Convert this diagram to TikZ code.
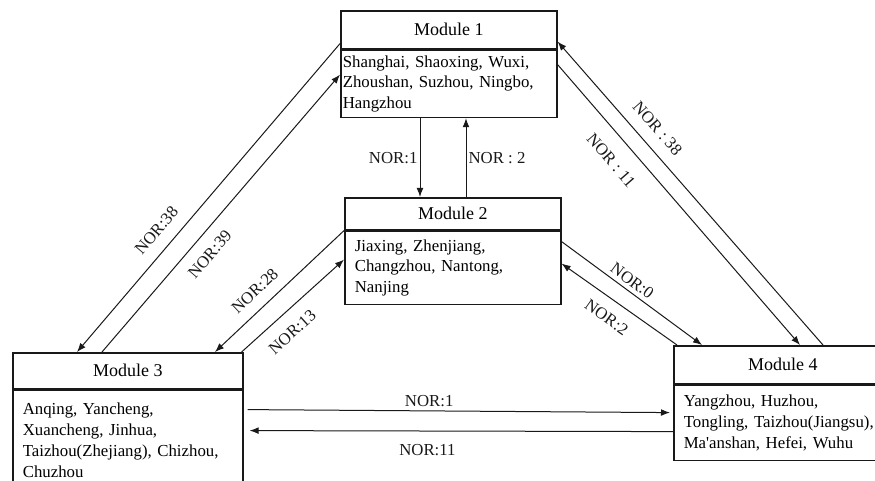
\documentclass[tikz,border=0pt]{standalone}
\usepackage{fontspec}
\setmainfont{Liberation Serif}
\usetikzlibrary{arrows.meta,positioning}
\definecolor{ink}{RGB}{25,25,25}
\newcommand\modfont{\fontsize{8.4}{10.4}\selectfont}
\tikzset{
  >={Latex[length=4.5pt,width=3.4pt]},
  modhead/.style={draw=ink,line width=0.8pt,minimum width=#1,inner sep=0pt,
    font=\fontsize{9}{11}\selectfont,anchor=north west},
  modbody/.style={draw=ink,line width=0.8pt,text width=#1,inner xsep=5pt,
    inner ysep=0pt,align=left,font=\modfont},
  flow/.style={->,draw=ink,line width=0.5pt},
  tag/.style={font=\modfont,text=ink,inner sep=1pt},
}

\begin{document}
\begin{tikzpicture}[x=0.5pt,y=-0.5pt]
  \useasboundingbox (0,0) rectangle (875,481);
  % module boxes: header + city list
  \foreach \n/\x/\y/\w/\h in {1/340/10/108pt/19pt,2/344/197/108pt/16pt,3/12/352/115pt/18pt,4/673/345/109pt/19pt}
    \node[modhead=\w,minimum height=\h] (m\n) at (\x,\y) {Module \n};
  \node[modbody=106pt,inner xsep=1pt,minimum height=33.5pt,below=0pt of m1] (m1b)
    {Shanghai, Shaoxing, Wuxi,\\Zhoushan, Suzhou, Ningbo,\\Hangzhou};
  \node[modbody=98pt,minimum height=36.5pt,below=0pt of m2] (m2b)
    {Jiaxing, Zhenjiang,\\Changzhou, Nantong,\\Nanjing};
  \node[modbody=105pt,minimum height=50pt,below=0pt of m3] (m3b)
    {Anqing, Yancheng,\\Xuancheng, Jinhua,\\Taizhou(Zhejiang), Chizhou,\\Chuzhou};
  \node[modbody=99pt,minimum height=37.5pt,below=0pt of m4] (m4b)
    {Yangzhou, Huzhou,\\Tongling, Taizhou(Jiangsu),\\Ma\textquotesingle anshan, Hefei, Wuhu};

  % links between modules
  \draw[flow] ([xshift=40pt]m1b.south west) -- node[tag,left]{NOR:1} ([xshift=38pt]m2.north west);
  \draw[flow] ([xshift=61pt]m2.north west) -- node[tag,right]{NOR : 2} ([xshift=63pt]m1b.south west);
  \draw[flow] ([yshift=3pt]m1.south west) -- node[tag,pos=0.645,sloped,above=5pt]{NOR:38} ([xshift=32.5pt]m3.north west);
  \draw[flow] ([xshift=45pt]m3.north west) -- node[tag,pos=0.395,sloped,below=5pt]{NOR:39} ([yshift=-12.5pt]m1b.north west);
  \draw[flow] (m2.south west) -- node[tag,pos=0.6,sloped,above=4.5pt]{NOR:28} ([xshift=101.5pt]m3.north west);
  \draw[flow] ([xshift=-1pt]m3.north east) -- node[tag,pos=0.37,sloped,below=5.5pt]{NOR:13} ([yshift=-14.5pt]m2b.north west);
  \draw[flow] ([yshift=-5.5pt]m2b.north east) -- node[tag,pos=0.46,sloped,above=1pt]{NOR:0} ([xshift=14.5pt]m4.north west);
  \draw[flow] ([xshift=2pt]m4.north west) -- node[tag,pos=0.52,sloped,below=5pt]{NOR:2} ([yshift=-16.5pt]m2b.north east);
  \draw[flow] ([yshift=-7.5pt]m1b.north east) -- node[tag,pos=0.29,sloped,below=7pt]{NOR : 11} ([xshift=63.5pt]m4.north west);
  \draw[flow] ([xshift=75pt]m4.north west) -- node[tag,pos=0.675,sloped,above=5pt]{NOR : 38} ([yshift=4pt]m1.south east);
  \draw[flow] ([xshift=2pt,yshift=-10pt]m3b.north east) -- node[tag,pos=0.43,above=0.7pt]{NOR:1} ([xshift=-1.5pt,yshift=-14pt]m4b.north west);
  \draw[flow] ([yshift=-23.5pt]m4b.north west) -- node[tag,pos=0.58,below=5.5pt]{NOR:11} ([xshift=3pt,yshift=-20.5pt]m3b.north east);
\end{tikzpicture}
\end{document}
